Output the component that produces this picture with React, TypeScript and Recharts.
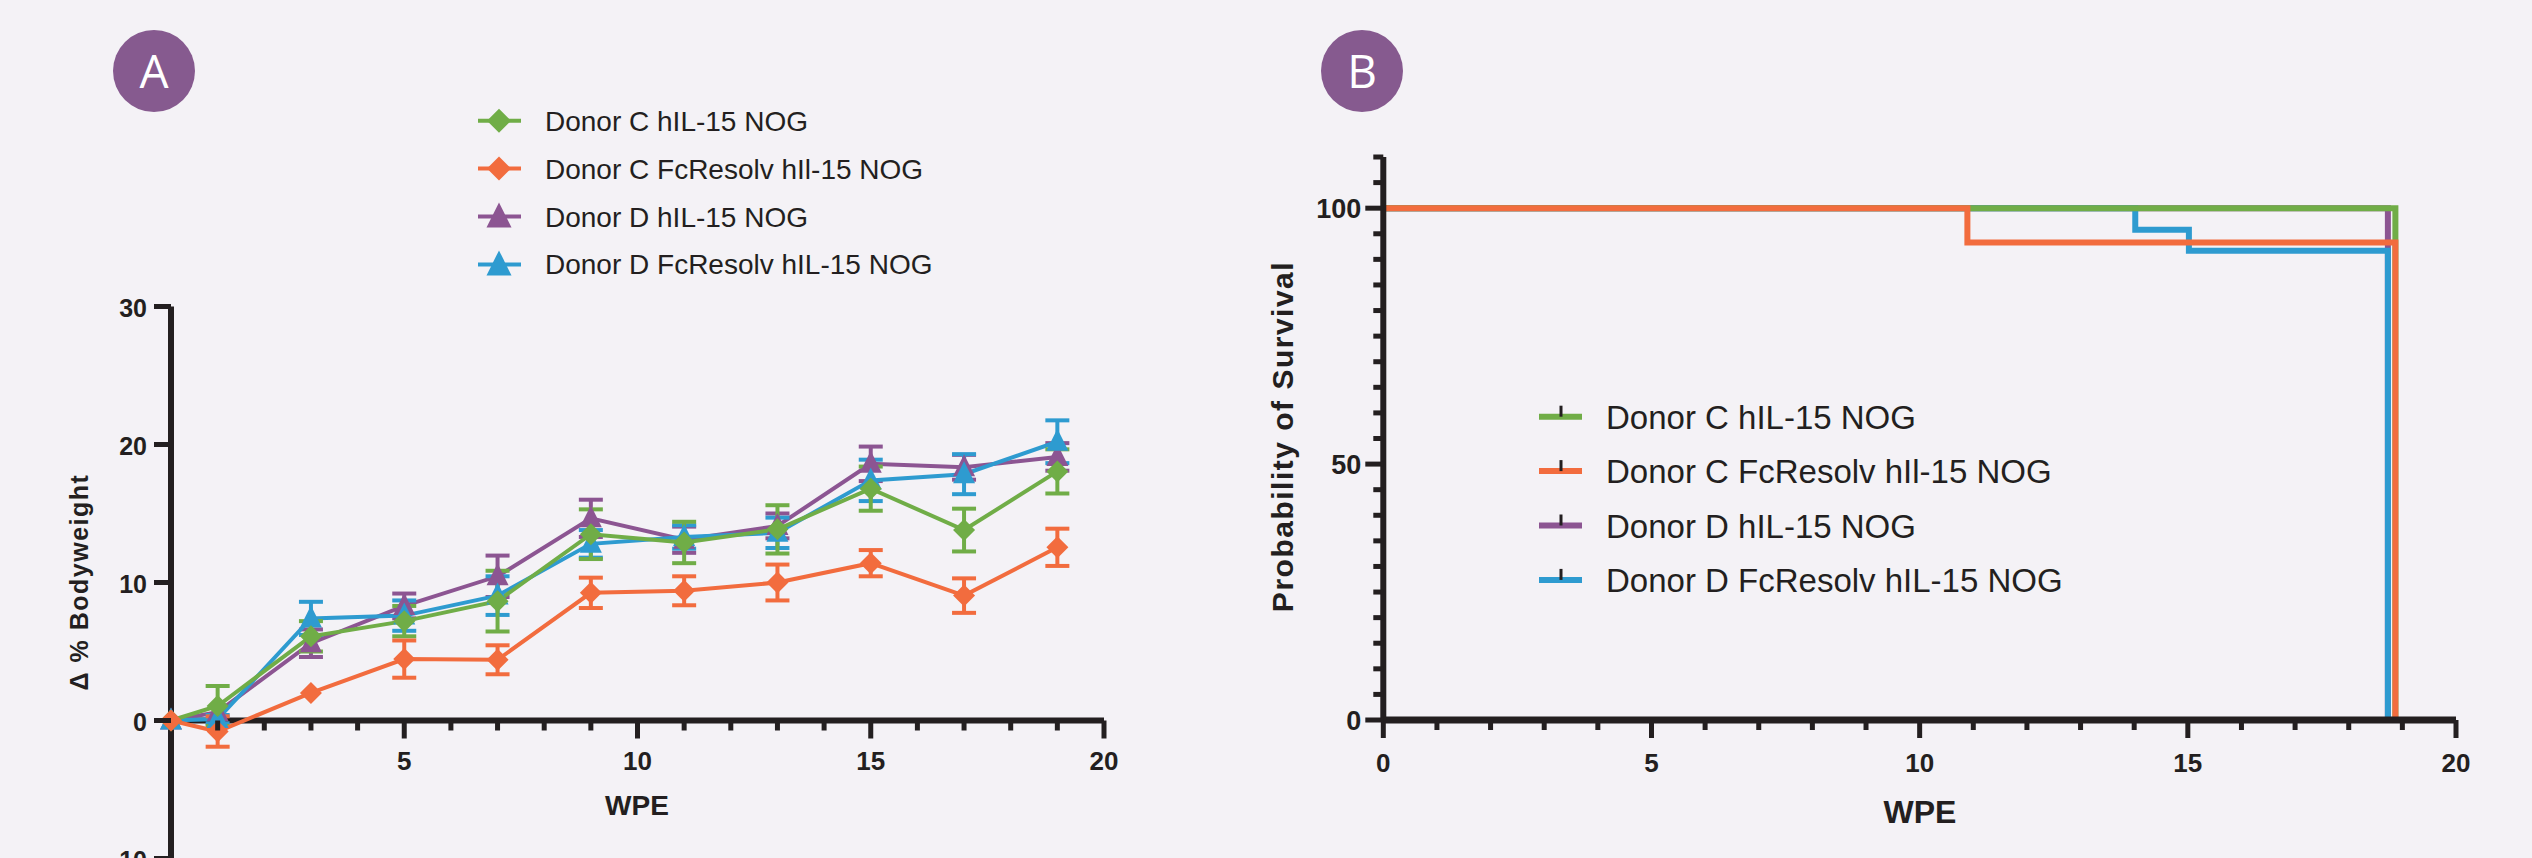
import React from 'react';
import { LineChart, Line, XAxis, YAxis, ErrorBar, ReferenceLine } from 'recharts';

// ---- panel A: change in bodyweight (mean ± SEM) ----
const WEEKS = [0, 1, 3, 5, 7, 9, 11, 13, 15, 17, 19];
const C_IL15 = [0, 1.05, 6.1, 7.2, 8.65, 13.5, 12.9, 13.85, 16.8, 13.8, 18.05];
const C_IL15_SEM = [0, 1.45, 1.1, 1.1, 2.2, 1.8, 1.5, 1.75, 1.6, 1.55, 1.6];
const C_FCR = [0, -0.8, 2.0, 4.45, 4.4, 9.25, 9.4, 10.0, 11.4, 9.05, 12.55];
const C_FCR_SEM = [0, 1.1, 0, 1.35, 1.05, 1.1, 1.05, 1.3, 0.95, 1.25, 1.35];
const D_IL15 = [0, 0.6, 5.6, 8.3, 10.45, 14.65, 13.1, 14.1, 18.6, 18.35, 19.1];
const D_IL15_SEM = [0, 0, 1.0, 0.9, 1.5, 1.35, 0.95, 0.9, 1.25, 0.9, 1.0];
const D_FCR = [0, 0.1, 7.4, 7.6, 9.05, 12.8, 13.3, 13.6, 17.4, 17.85, 20.2];
const D_FCR_SEM = [0, 0.3, 1.2, 1.1, 1.4, 1.0, 0.85, 1.1, 1.5, 1.45, 1.55];

const A_Y_TICKS = [-10, 0, 10, 20, 30];
const A_X_TICKS = Array.from({ length: 20 }, (_, i) => i + 1);

// ---- panel B: Kaplan-Meier survival ----
const SURV_C_IL15_WK = [0, 18.87];
const SURV_C_IL15 = [100, 0];
const SURV_C_FCR_WK = [0, 10.89, 18.87];
const SURV_C_FCR = [100, 93.3, 0];
const SURV_D_IL15_WK = [0, 18.73];
const SURV_D_IL15 = [100, 0];
const SURV_D_FCR_WK = [0, 14.02, 15.02, 18.73];
const SURV_D_FCR = [100, 95.8, 91.7, 0];

const B_X_TICKS = Array.from({ length: 21 }, (_, i) => i);
const B_Y_TICKS = Array.from({ length: 23 }, (_, i) => i * 5);

const NAMES = [
  'Donor C hIL-15 NOG',
  'Donor C FcResolv hIl-15 NOG',
  'Donor D hIL-15 NOG',
  'Donor D FcResolv hIL-15 NOG',
];

const GREEN = '#70ad47';
const ORANGE = '#f26c3e';
const PURPLE = '#8c5592';
const BLUE = '#2e9bd0';
const COLORS = [GREEN, ORANGE, PURPLE, BLUE];
const INK = '#231f20';
const BG = '#f4f2f6';
const BADGE = '#865a8f';
const FONT = '"Liberation Sans", Arial, Helvetica, sans-serif';

const bwRows = WEEKS.map((wk, i) => ({
  wk,
  cI: C_IL15[i], cIErr: C_IL15_SEM[i],
  cF: C_FCR[i], cFErr: C_FCR_SEM[i],
  dI: D_IL15[i], dIErr: D_IL15_SEM[i],
  dF: D_FCR[i], dFErr: D_FCR_SEM[i],
}));

const toSteps = (wks: number[], vals: number[]) => wks.map((wk, i) => ({ wk, s: vals[i] }));

// chart A layout
const A_H = 660, A_TOP = 46.5, A_BOTTOM = 31.5, A_XH = 30;
const A_PLOT_H = A_H - A_TOP - A_BOTTOM - A_XH;
const A_ZERO_SHIFT = (A_PLOT_H * 10) / 40; // y=0 sits above the plot bottom (y=-10)

const diamondDot = (color: string, r = 11) => (p: any) => {
  if (p.cx == null || p.cy == null) return <g key={`n-${p.index}`} />;
  const { cx, cy } = p;
  return (
    <polygon key={`d-${p.index}`} fill={color}
      points={`${cx},${cy - r} ${cx + r},${cy} ${cx},${cy + r} ${cx - r},${cy}`} />
  );
};

const triangleDot = (color: string) => (p: any) => {
  if (p.cx == null || p.cy == null) return <g key={`n-${p.index}`} />;
  const { cx, cy } = p;
  return (
    <polygon key={`t-${p.index}`} fill={color}
      points={`${cx},${cy - 13} ${cx + 11},${cy + 9} ${cx - 11},${cy + 9}`} />
  );
};

const XTickA = (p: any) => {
  const v = p.payload.value;
  const y0 = p.y - A_ZERO_SHIFT;
  const major = v % 5 === 0;
  return (
    <g>
      <line x1={p.x} x2={p.x} y1={y0} y2={y0 + (major ? 18 : 10)} stroke={INK} strokeWidth={5} />
      {major && (
        <text x={p.x} y={y0 + 49} textAnchor="middle" fontFamily={FONT} fontWeight={700}
          fontSize={26} fill={INK}>{v}</text>
      )}
    </g>
  );
};

const YTickA = (p: any) => (
  <g>
    <line x1={p.x - 17} x2={p.x} y1={p.y} y2={p.y} stroke={INK} strokeWidth={5} />
    <text x={p.x - 24} y={p.y + 10} textAnchor="end" fontFamily={FONT} fontWeight={700}
      fontSize={25} fill={INK}>{p.payload.value}</text>
  </g>
);

const XTickB = (p: any) => {
  const v = p.payload.value;
  const major = v % 5 === 0;
  return (
    <g>
      <line x1={p.x} x2={p.x} y1={p.y} y2={p.y + (major ? 18 : 10)} stroke={INK} strokeWidth={5} />
      {major && (
        <text x={p.x} y={p.y + 52} textAnchor="middle" fontFamily={FONT} fontWeight={700}
          fontSize={26} fill={INK}>{v}</text>
      )}
    </g>
  );
};

const YTickB = (p: any) => {
  const v = p.payload.value;
  const major = v % 50 === 0;
  return (
    <g>
      <line x1={p.x - (major ? 18 : 10)} x2={p.x} y1={p.y} y2={p.y} stroke={INK} strokeWidth={5} />
      {major && (
        <text x={p.x - 22} y={p.y + 10} textAnchor="end" fontFamily={FONT} fontWeight={700}
          fontSize={27} fill={INK}>{v}</text>
      )}
    </g>
  );
};

function LegendMarker({ i, x, y }: { i: number; x: number; y: number }) {
  const c = COLORS[i];
  if (i < 2) {
    const r = 12;
    return <polygon fill={c} points={`${x},${y - r} ${x + r},${y} ${x},${y + r} ${x - r},${y}`} />;
  }
  return <polygon fill={c} points={`${x},${y - 14} ${x + 12.5},${y + 11} ${x - 12.5},${y + 11}`} />;
}

export default function App() {
  return (
    <div style={{ position: 'absolute', left: 0, top: 0, width: 2532, height: 858, background: BG, overflow: 'hidden' }}>
      {/* Panel A */}
      <div style={{ position: 'absolute', left: 0, top: 260 }}>
        <LineChart width={1150} height={A_H} data={bwRows}
          margin={{ top: A_TOP, right: 46, bottom: A_BOTTOM, left: 0 }}>
          <XAxis type="number" dataKey="wk" domain={[0, 20]} ticks={A_X_TICKS} interval={0}
            height={A_XH} tickSize={0} tickMargin={0} axisLine={false} tickLine={false}
            tick={(p: any) => <XTickA {...p} />} />
          <YAxis type="number" domain={[-10, 30]} ticks={A_Y_TICKS} interval={0} width={171}
            tickSize={0} tickMargin={0} tickLine={false}
            axisLine={{ stroke: INK, strokeWidth: 6 }}
            tick={(p: any) => <YTickA {...p} />} />
          <ReferenceLine y={0} stroke={INK} strokeWidth={6} />
          <Line dataKey="dI" stroke={PURPLE} strokeWidth={4} dot={triangleDot(PURPLE)} isAnimationActive={false}>
            <ErrorBar dataKey="dIErr" direction="y" stroke={PURPLE} strokeWidth={4} width={12} />
          </Line>
          <Line dataKey="dF" stroke={BLUE} strokeWidth={4} dot={triangleDot(BLUE)} isAnimationActive={false}>
            <ErrorBar dataKey="dFErr" direction="y" stroke={BLUE} strokeWidth={4} width={12} />
          </Line>
          <Line dataKey="cI" stroke={GREEN} strokeWidth={4} dot={diamondDot(GREEN)} isAnimationActive={false}>
            <ErrorBar dataKey="cIErr" direction="y" stroke={GREEN} strokeWidth={4} width={12} />
          </Line>
          <Line dataKey="cF" stroke={ORANGE} strokeWidth={4} dot={diamondDot(ORANGE)} isAnimationActive={false}>
            <ErrorBar dataKey="cFErr" direction="y" stroke={ORANGE} strokeWidth={4} width={12} />
          </Line>
        </LineChart>
      </div>

      {/* Panel B */}
      <div style={{ position: 'absolute', left: 1200, top: 120 }}>
        <LineChart width={1300} height={740} margin={{ top: 37, right: 44, bottom: 110, left: 0 }}>
          <XAxis type="number" dataKey="wk" domain={[0, 20]} ticks={B_X_TICKS} interval={0}
            height={30} tickSize={0} tickMargin={0} tickLine={false}
            axisLine={{ stroke: INK, strokeWidth: 7 }}
            tick={(p: any) => <XTickB {...p} />} />
          <YAxis type="number" domain={[0, 110]} ticks={B_Y_TICKS} interval={0} width={183.3}
            tickSize={0} tickMargin={0} tickLine={false}
            axisLine={{ stroke: INK, strokeWidth: 6 }}
            tick={(p: any) => <YTickB {...p} />} />
          <Line data={toSteps(SURV_D_IL15_WK, SURV_D_IL15)} dataKey="s" type="stepAfter"
            stroke={PURPLE} strokeWidth={6} dot={false} isAnimationActive={false} />
          <Line data={toSteps(SURV_D_FCR_WK, SURV_D_FCR)} dataKey="s" type="stepAfter"
            stroke={BLUE} strokeWidth={6} dot={false} isAnimationActive={false} />
          <Line data={toSteps(SURV_C_IL15_WK, SURV_C_IL15)} dataKey="s" type="stepAfter"
            stroke={GREEN} strokeWidth={6} dot={false} isAnimationActive={false} />
          <Line data={toSteps(SURV_C_FCR_WK, SURV_C_FCR)} dataKey="s" type="stepAfter"
            stroke={ORANGE} strokeWidth={6} dot={false} isAnimationActive={false} />
        </LineChart>
      </div>

      {/* badges, titles, legends */}
      <svg width={2532} height={858} style={{ position: 'absolute', left: 0, top: 0, pointerEvents: 'none' }}>
        <circle cx={154} cy={71} r={41} fill={BADGE} />
        <text x={154} y={87.5} textAnchor="middle" fontFamily='"Open Sans", sans-serif' fontSize={46} fill="#fff">A</text>
        <circle cx={1362} cy={71} r={41} fill={BADGE} />
        <text x={1362} y={87.5} textAnchor="middle" fontFamily='"Open Sans", sans-serif' fontSize={46} fill="#fff">B</text>

        <text x={637} y={814.5} textAnchor="middle" fontFamily={FONT} fontWeight={700} fontSize={28} fill={INK}>WPE</text>
        <text transform="translate(88,582) rotate(-90)" textAnchor="middle" fontFamily={FONT}
          fontWeight={700} fontSize={25} letterSpacing={1.5} fill={INK}>Δ % Bodyweight</text>

        <text x={1920} y={823} textAnchor="middle" fontFamily={FONT} fontWeight={700} fontSize={32} fill={INK}>WPE</text>
        <text transform="translate(1292.7,436.5) rotate(-90)" textAnchor="middle" fontFamily={FONT}
          fontWeight={700} fontSize={30} letterSpacing={1.5} fill={INK}>Probability of Survival</text>

        {NAMES.map((name, i) => {
          const y = 120.7 + i * 47.9;
          return (
            <g key={`la-${i}`}>
              <line x1={478} x2={521} y1={y} y2={y} stroke={COLORS[i]} strokeWidth={4} />
              <LegendMarker i={i} x={499} y={y} />
              <text x={545} y={y + 10} fontFamily={FONT} fontSize={28} fill={INK}>{name}</text>
            </g>
          );
        })}

        {NAMES.map((name, i) => {
          const y = 416.7 + i * 54.4;
          return (
            <g key={`lb-${i}`}>
              <line x1={1539} x2={1582} y1={y} y2={y} stroke={COLORS[i]} strokeWidth={6} />
              <line x1={1561} x2={1561} y1={y - 11} y2={y} stroke={INK} strokeWidth={3} />
              <text x={1606} y={y + 12} fontFamily={FONT} fontSize={33} fill={INK}>{name}</text>
            </g>
          );
        })}
      </svg>
    </div>
  );
}
